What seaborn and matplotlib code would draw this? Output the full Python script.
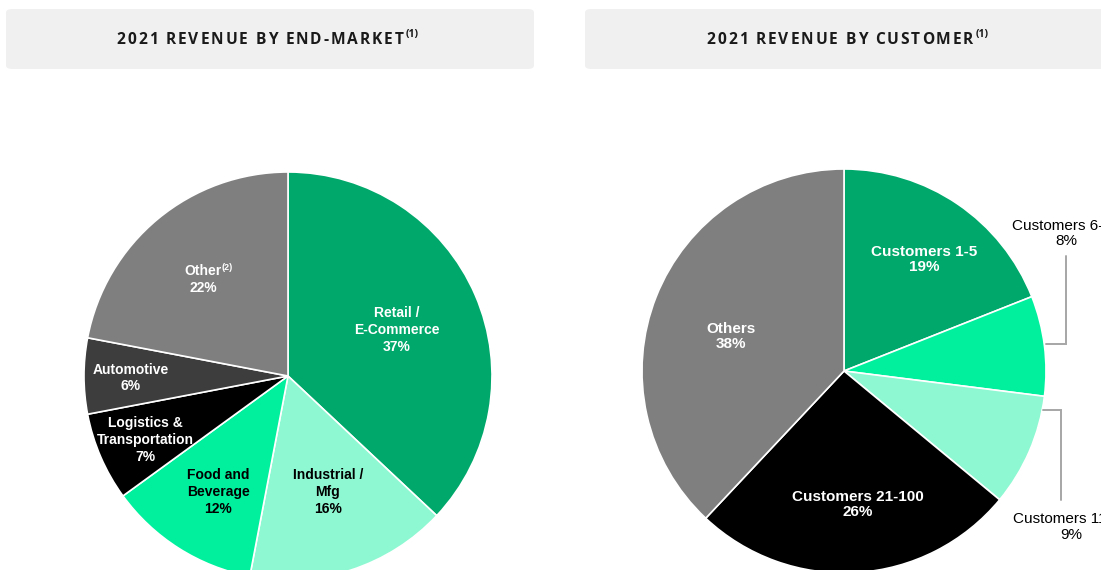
import matplotlib
matplotlib.use("Agg")
import matplotlib.pyplot as plt
from matplotlib.patches import FancyBboxPatch
import seaborn as sns

sns.set_theme(style="white")
plt.rcParams['font.family'] = ['Liberation Sans', 'DejaVu Sans']

# ---------------- data ----------------
market_labels = ["Retail /\nE-Commerce", "Industrial /\nMfg", "Food and\nBeverage",
                 "Logistics &\nTransportation", "Automotive", "Other"]
market_values = [37, 16, 12, 7, 6, 22]
market_colors = ["#00A86B", "#8EF8D2", "#00F09E", "#000000", "#3D3D3D", "#7F7F7F"]
market_text_colors = ["white", "black", "black", "white", "white", "white"]

customer_labels = ["Customers 1-5", "Customers 6-10", "Customers 11-20",
                   "Customers 21-100", "Others"]
customer_values = [19, 8, 9, 26, 38]
customer_colors = ["#00A86B", "#00F09E", "#8EF8D2", "#000000", "#7F7F7F"]
customer_text_colors = ["white", "black", "black", "white", "white"]

titles = ["2021 REVENUE BY END-MARKET", "2021 REVENUE BY CUSTOMER"]

W, H = 1101, 570
fig = plt.figure(figsize=(W / 100, H / 100), dpi=100)
fig.patch.set_facecolor("white")
fig.canvas.draw()
renderer = fig.canvas.get_renderer()


def fx(px):
    return px / W


def fy(py):
    return 1 - py / H


TITLE_FONT = dict(fontsize=11.2, fontweight="bold", color="#1A1A1A",
                  family=["Open Sans", "DejaVu Sans"])


def tracked_text(cx_px, cy_px, s, tracking_px, sup=None):
    """Draw text centred at cx_px with extra letter spacing."""
    widths = []
    for ch in s:
        if ch == " ":
            t = fig.text(0, 0, "a a", **TITLE_FONT)
            t2 = fig.text(0, 0, "aa", **TITLE_FONT)
            w = t.get_window_extent(renderer).width - t2.get_window_extent(renderer).width
            t.remove(); t2.remove()
        else:
            t = fig.text(0, 0, ch, **TITLE_FONT)
            w = t.get_window_extent(renderer).width
            t.remove()
        widths.append(w)
    total = sum(widths) + tracking_px * (len(s) - 1)
    x = cx_px - total / 2
    for ch, w in zip(s, widths):
        if ch != " ":
            fig.text(fx(x), fy(cy_px), ch, ha="left", va="center", **TITLE_FONT)
        x += w + tracking_px
    if sup:
        fig.text(fx(x), fy(cy_px - 5), sup, ha="left", va="center",
                 fontsize=7.5, fontweight="bold", color="#1A1A1A",
                 family=["Open Sans", "DejaVu Sans"])


# ---------------- header boxes ----------------
for (x0, x1), title, cx in zip([(6, 534), (585, 1115)], titles, [260, 840]):
    box = FancyBboxPatch((fx(x0), fy(69)), fx(x1 - x0), (69 - 9) / H,
                         boxstyle="round,pad=0,rounding_size=0.006",
                         transform=fig.transFigure, facecolor="#F0F0F0",
                         edgecolor="none", zorder=0)
    fig.patches.append(box)
    tracked_text(cx, 40, title, 1.9, sup="(1)")

# ---------------- left pie ----------------
cxL, cyL, rL = 288, 376, 204
axL = fig.add_axes([fx(cxL - rL), (H - cyL - rL) / H, 2 * rL / W, 2 * rL / H])
axL.pie(market_values, colors=market_colors, startangle=90, counterclock=False,
        radius=1, wedgeprops=dict(edgecolor="white", linewidth=1.2))
axL.set_xlim(-1, 1)
axL.set_ylim(-1, 1)
axL.set_aspect("auto")
axL.axis("off")


def uL(px, py):
    return (px - cxL) / rL, (cyL - py) / rL


market_pos = [uL(397, 330), uL(328, 492), uL(218, 492), uL(145, 440),
              uL(131, 378), uL(204, 280)]
for lab, val, pos, col in zip(market_labels, market_values, market_pos, market_text_colors):
    if lab == "Other":
        continue
    axL.text(pos[0], pos[1], f"{lab}\n{val}%", ha="center", va="center",
             fontsize=10, fontweight="bold", color=col, linespacing=1.25)

# Other with superscript
op = uL(222, 271)
axL.text(op[0], op[1], "Other", ha="right", va="center", fontsize=10,
         fontweight="bold", color="white")
op2 = uL(222, 268)
axL.text(op2[0], op2[1], "(2)", ha="left", va="center", fontsize=6.5,
         fontweight="bold", color="white")
op3 = uL(203, 288)
axL.text(op3[0], op3[1], f"{market_values[-1]}%", ha="center", va="center",
         fontsize=10, fontweight="bold", color="white")

# ---------------- right pie ----------------
cxR, cyR, rR = 844, 371, 202
axR = fig.add_axes([fx(cxR - rR), (H - cyR - rR) / H, 2 * rR / W, 2 * rR / H])
axR.pie(customer_values, colors=customer_colors, startangle=90, counterclock=False,
        radius=1, wedgeprops=dict(edgecolor="white", linewidth=1.2))
axR.set_xlim(-1, 1)
axR.set_ylim(-1, 1)
axR.set_aspect("auto")
axR.axis("off")


def uR(px, py):
    return (px - cxR) / rR, (cyR - py) / rR


inside_pos = {0: uR(924, 259.5), 3: uR(858, 504.5), 4: uR(731, 336.5)}
for i, pos in inside_pos.items():
    axR.text(pos[0], pos[1], f"{customer_labels[i]}\n{customer_values[i]}%",
             ha="center", va="center", fontsize=11, fontweight="bold",
             color=customer_text_colors[i], linespacing=1.15)

# callouts
leaders = {1: [uR(1046, 344), uR(1066, 344), uR(1066, 256)],
           2: [uR(1043, 410), uR(1061, 410), uR(1061, 500)]}
callout_pos = {1: uR(1066, 233.5), 2: uR(1071, 527)}
for i in (1, 2):
    pts = leaders[i]
    axR.plot([p[0] for p in pts], [p[1] for p in pts], color="#A6A6A6",
             linewidth=1.4, clip_on=False, solid_joinstyle="miter")
    pos = callout_pos[i]
    axR.text(pos[0], pos[1], f"{customer_labels[i]}\n{customer_values[i]}%",
             ha="center", va="center", fontsize=11, color="black",
             linespacing=1.15, clip_on=False)

fig.savefig("out.png", dpi=100, facecolor="white")
